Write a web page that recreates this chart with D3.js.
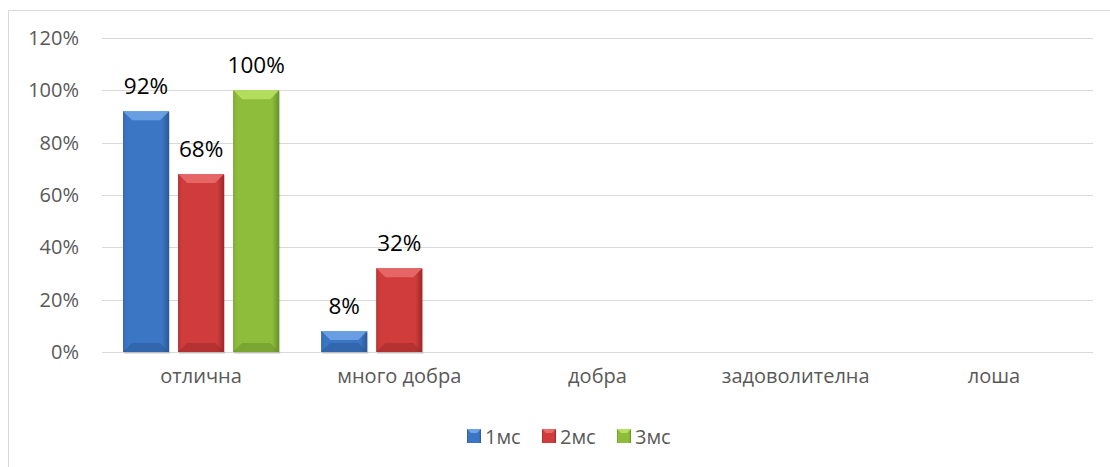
<!DOCTYPE html>
<html>
<head>
<meta charset="utf-8">
<script src="https://cdn.jsdelivr.net/npm/d3@7"></script>
<style>
  body { margin: 0; background: #fff; }
  svg text { font-family: "Open Sans", "Noto Sans", sans-serif; }
</style>
</head>
<body>
<div id="chart"></div>
<script>
// chart data
const categories = ['отлична', 'много добра', 'добра', 'задоволителна', 'лоша'];
const seriesNames = ['1мс', '2мс', '3мс'];
const s1 = [0.92, 0.08, null, null, null];
const s2 = [0.68, 0.32, null, null, null];
const s3 = [1.00, null, null, null, null];
const yTicks = [0, 0.2, 0.4, 0.6, 0.8, 1.0, 1.2];

const seriesValues = [s1, s2, s3];
const palette = [
  { base: '#3b76c4', dark: '#2a5896', light: '#6fa3e6' },
  { base: '#d03c3c', dark: '#9c2727', light: '#e86a6a' },
  { base: '#8dbd3a', dark: '#67902a', light: '#b7e062' }
];

const width = 1110, height = 467;
const margin = { top: 38, right: 17, bottom: 115, left: 102 };

const svg = d3.select('#chart').append('svg')
    .attr('width', width)
    .attr('height', height);

// outer frame (extends off the picture to right and bottom)
svg.append('rect')
    .attr('x', 8.5).attr('y', 10.5)
    .attr('width', width).attr('height', height)
    .attr('fill', 'none')
    .attr('stroke', '#d9d9d9');

const x0 = d3.scaleBand()
    .domain(categories)
    .range([margin.left, width - margin.right]);

const groupPad = 21;
const x1 = d3.scaleBand()
    .domain(seriesNames)
    .range([groupPad, x0.bandwidth() - groupPad])
    .paddingInner(0.1636);

const y = d3.scaleLinear()
    .domain([0, 1.2])
    .range([height - margin.bottom, margin.top]);

// gridlines
svg.append('g')
  .selectAll('line')
  .data(yTicks)
  .join('line')
    .attr('x1', margin.left)
    .attr('x2', width - margin.right)
    .attr('y1', d => Math.round(y(d)) + 0.5)
    .attr('y2', d => Math.round(y(d)) + 0.5)
    .attr('stroke', '#d9d9d9')
    .attr('stroke-width', 1.2);

// y labels
svg.append('g')
  .selectAll('text')
  .data(yTicks)
  .join('text')
    .attr('x', 79)
    .attr('y', d => y(d))
    .attr('dy', '0.35em')
    .attr('text-anchor', 'end')
    .attr('fill', '#595959')
    .style('font-size', '20px')
    .text(d => d3.format('.0%')(d));

// x labels
svg.append('g')
  .selectAll('text')
  .data(categories)
  .join('text')
    .attr('x', d => x0(d) + x0.bandwidth() / 2)
    .attr('y', 383)
    .attr('text-anchor', 'middle')
    .attr('fill', '#595959')
    .style('font-size', '20px')
    .text(d => d);

// gradients for the bevelled bars
const defs = svg.append('defs');
palette.forEach((c, i) => {
  const g = defs.append('linearGradient')
      .attr('id', 'grad' + i)
      .attr('x1', '0%').attr('x2', '100%')
      .attr('y1', '0%').attr('y2', '0%');
  g.append('stop').attr('offset', '0%').attr('stop-color', c.dark);
  g.append('stop').attr('offset', '8%').attr('stop-color', c.base);
  g.append('stop').attr('offset', '85%').attr('stop-color', c.base);
  g.append('stop').attr('offset', '100%').attr('stop-color', c.dark);
});

const bars = [];
seriesValues.forEach((vals, si) => {
  vals.forEach((v, ci) => {
    if (v == null) return;
    bars.push({ cat: categories[ci], series: seriesNames[si], si: si, value: v });
  });
});

const barG = svg.append('g');
const bw = x1.bandwidth();

bars.forEach(b => {
  const bx = x0(b.cat) + x1(b.series);
  const by = y(b.value);
  const bh = y(0) - by;
  const bev = Math.min(9, bh / 2);
  const c = palette[b.si];
  // soft shadow
  barG.append('rect')
      .attr('x', bx + 1).attr('y', by + 1)
      .attr('width', bw).attr('height', bh + 1)
      .attr('fill', '#000').attr('opacity', 0.12);
  barG.append('rect')
      .attr('x', bx).attr('y', by)
      .attr('width', bw).attr('height', bh)
      .attr('fill', `url(#grad${b.si})`);
  // top bevel
  barG.append('path')
      .attr('d', `M${bx},${by}L${bx + bw},${by}L${bx + bw - bev},${by + bev}L${bx + bev},${by + bev}Z`)
      .attr('fill', c.light).attr('opacity', 0.9);
  // left bevel
  barG.append('path')
      .attr('d', `M${bx},${by}L${bx + bev},${by + bev}L${bx + bev},${by + bh - bev}L${bx},${by + bh}Z`)
      .attr('fill', c.base).attr('opacity', 0.6);
  // bottom bevel
  barG.append('path')
      .attr('d', `M${bx},${by + bh}L${bx + bev},${by + bh - bev}L${bx + bw - bev},${by + bh - bev}L${bx + bw},${by + bh}Z`)
      .attr('fill', c.dark).attr('opacity', 0.5);
  // value label
  barG.append('text')
      .attr('x', bx + bw / 2)
      .attr('y', by - 17)
      .attr('text-anchor', 'middle')
      .attr('fill', '#000')
      .style('font-size', '22.5px')
      .text(d3.format('.0%')(b.value));
});

// legend
const legend = svg.append('g');
seriesNames.forEach((name, i) => {
  const lx = 467 + i * 75;
  const c = palette[i];
  legend.append('rect')
      .attr('x', lx).attr('y', 429)
      .attr('width', 14).attr('height', 14)
      .attr('fill', `url(#grad${i})`);
  legend.append('path')
      .attr('d', `M${lx},429L${lx + 14},429L${lx + 10},433L${lx + 4},433Z`)
      .attr('fill', c.light);
  legend.append('text')
      .attr('x', lx + 18)
      .attr('y', 444)
      .attr('fill', '#595959')
      .style('font-size', '20px')
      .text(name);
});
</script>
</body>
</html>
